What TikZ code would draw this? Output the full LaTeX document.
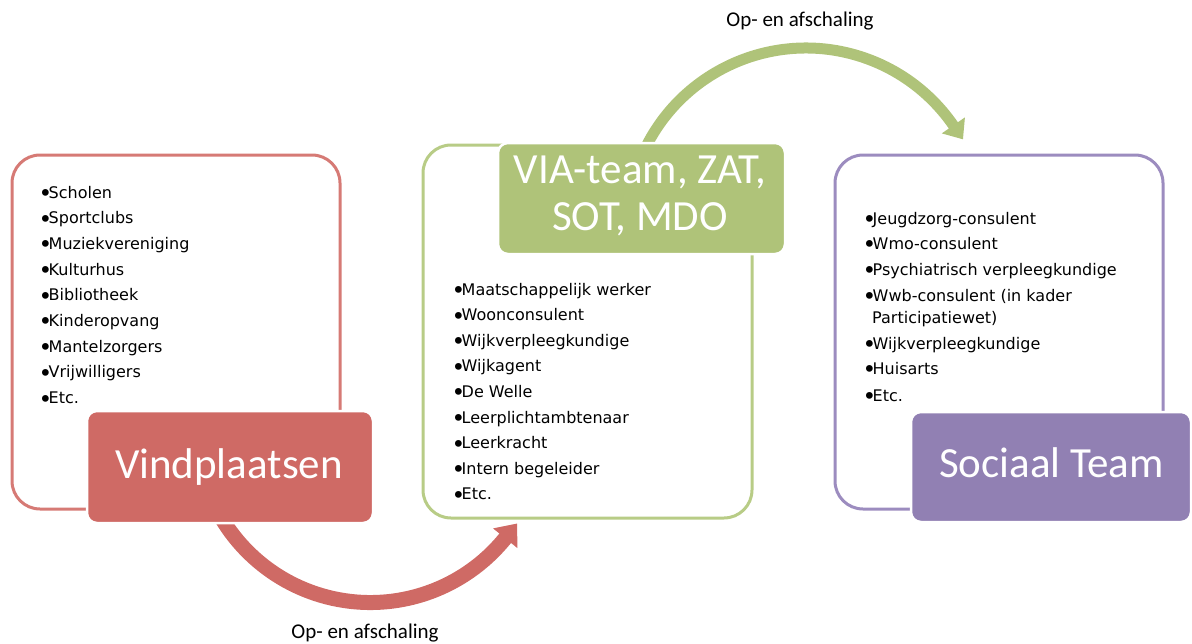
\documentclass[tikz,border=0pt]{standalone}
\usepackage{graphicx}
\usepackage{fontspec}
\setmainfont{DejaVu Sans}
\newfontfamily\calib{Carlito}
\usetikzlibrary{arrows.meta}
\definecolor{redF}{HTML}{CF6A65}
\definecolor{redO}{HTML}{D67A75}
\definecolor{greenF}{HTML}{AFC379}
\definecolor{greenO}{HTML}{B8CC86}
\definecolor{purpleF}{HTML}{9180B3}
\definecolor{purpleO}{HTML}{9C8CBF}
\newcommand\bul{\makebox[8.5pt][l]{\hspace*{-1.5pt}\raisebox{-3.4pt}{\scalebox{1.45}{•}}}}
\begin{document}
\begin{tikzpicture}[x=1pt,y=-1pt,
  outline/.style={draw, line width=3pt, rounded corners=28pt, fill=white, inner sep=0pt},
  titlebox/.style={draw=white, line width=2.5pt, rounded corners=10pt, inner sep=0pt},
  titletext/.style={font=\calib\fontsize{43}{47}\selectfont, text=white, anchor=base, inner sep=0pt},
  item/.style={font=\fontsize{16}{20}\selectfont, anchor=base west, inner sep=0pt},
  lbl/.style={font=\calib\fontsize{21}{24}\selectfont, anchor=base, inner sep=0pt},
]
\useasboundingbox (0,0) rectangle (1192,643);

% outline boxes
\node[outline, draw=redO, minimum width=328pt, minimum height=354pt] (vbox) at (176,332) {};
\node[outline, draw=greenO, minimum width=329pt, minimum height=373pt] (mbox) at (587.5,331.5) {};
\node[outline, draw=purpleO, minimum width=328pt, minimum height=354pt] (sbox) at (999,332) {};

% arrows
\coordinate (rs) at (215.8,507.8);
\coordinate (gs) at (637.8,165.8);
\draw[line width=15pt, draw=redF, -{Triangle[length=19pt, width=30pt]}]
  (rs) arc[start angle=153, end angle=39, radius=173.5] -- ++(11.95,-14.76);
\draw[line width=11pt, draw=greenF, -{Triangle[length=17pt, width=27pt]}]
  (gs) arc[start angle=200, end angle=325.4, radius=179] -- ++(9.66,13.99);

% title boxes
\node[titlebox, fill=redF, minimum width=286pt, minimum height=112pt] (vind) at (230,467) {};
\node[titletext] (vindT) at (229,478) {Vindplaatsen};
\node[titlebox, fill=greenF, minimum width=287pt, minimum height=111pt] (via) at (641.5,198.5) {};
\node[titletext] (viaT1) at (640,183) {VIA-team, ZAT,};
\node[titletext] (viaT2) at (640,230) {SOT, MDO};
\node[titlebox, fill=purpleF, minimum width=280pt, minimum height=110pt] (soc) at (1051,467) {};
\node[titletext] (socT) at (1051.5,477) {Sociaal Team};

% lists
\foreach [count=\i] \t in {Scholen,Sportclubs,Muziekvereniging,Kulturhus,Bibliotheek,Kinderopvang,Mantelzorgers,Vrijwilligers,Etc.}
  \node[item] (L\i) at (40,{198+(\i-1)*25.7}) {\bul\t};
\foreach [count=\i] \t in {Maatschappelijk werker,Woonconsulent,Wijkverpleegkundige,Wijkagent,De Welle,Leerplichtambtenaar,Leerkracht,Intern begeleider,Etc.}
  \node[item] (M\i) at (453,{295+(\i-1)*25.6}) {\bul\t};
\node[item] (R1) at (864,224) {\bul Jeugdzorg-consulent};
\node[item] (R2) at (864,249) {\bul Wmo-consulent};
\node[item] (R3) at (864,275) {\bul Psychiatrisch verpleegkundige};
\node[item] (R4) at (864,301) {\bul Wwb-consulent (in kader};
\node[item] (R4b) at (872,323) {Participatiewet)};
\node[item] (R5) at (864,349) {\bul Wijkverpleegkundige};
\node[item] (R6) at (864,374) {\bul Huisarts};
\node[item] (R7) at (864,401) {\bul Etc.};

% labels
\node[lbl] (topL) at (800,26) {Op- en afschaling};
\node[lbl] (botL) at (365,638) {Op- en afschaling};
\end{tikzpicture}
\end{document}
